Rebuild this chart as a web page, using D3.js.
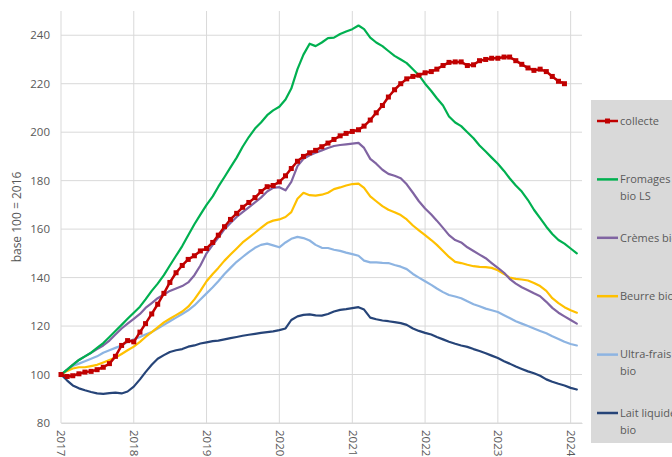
<!DOCTYPE html>
<html>
<head>
<meta charset="utf-8">
<script src="https://cdn.jsdelivr.net/npm/d3@7"></script>
<style>
  html, body { margin: 0; padding: 0; background: #fff; overflow: hidden; }
  svg { display: block; font-family: "Open Sans", "Liberation Sans", sans-serif; }
</style>
</head>
<body>
<svg id="chart" width="672" height="457"></svg>
<script>
// monthly index, base 100 = 2016, starting Jan 2017
const startDate = new Date(2017, 0, 1);
const yearTicks = [2017, 2018, 2019, 2020, 2021, 2022, 2023, 2024];
const yTicks = [80, 100, 120, 140, 160, 180, 200, 220, 240];

const collecte = [
  100, 99.2, 99.5, 100.3, 101, 101.3, 102, 103, 104.5, 107.5, 112, 114,
  113.5, 117.5, 121, 125, 129, 133.5, 138, 142, 145, 147.5, 149, 151,
  152, 154.5, 157.5, 161, 164, 166.5, 169, 171, 173, 175.5, 177.5, 178,
  179.5, 182, 185, 188, 190, 191.5, 192.5, 194, 195.5, 197, 198.5, 199.5,
  200.3, 201, 202.5, 205, 208, 211, 214.5, 217.5, 220, 222, 223, 223.5,
  224.5, 225, 226, 227.5, 228.8, 229, 229, 227.5, 227.8, 229.5, 230, 230.5,
  230.5, 231, 231, 229.5, 228, 226.5, 225.5, 226, 225, 223, 221, 220
];
const fromages = [
  100, 102, 104, 106, 107.5, 109, 111, 113, 115.5, 118, 120.5, 123,
  125.5, 128, 131, 134.5, 137.5, 141, 145, 149, 153, 157.5, 162, 166,
  170, 173.5, 177.5, 181.5, 185.5, 189.5, 194, 198, 201.5, 204, 207, 209,
  210.5, 213.5, 218, 226, 232, 236.5, 235.5, 237, 238.8, 239, 240.5, 241.5,
  242.5, 244, 242.5, 239, 237, 235.5, 233.5, 231.5, 230, 228.5, 226, 223.5,
  220, 217, 214, 211, 206.5, 204, 202.5, 200, 197.5, 194.5, 192, 189.5,
  187, 184, 181, 178, 175.5, 172, 168, 164.5, 161, 158, 155.5, 154,
  152, 150
];
const cremes = [
  100, 102, 104, 106, 107.5, 109, 110.5, 112, 114, 116.5, 119, 121,
  123, 125, 127.5, 129.5, 131.5, 133, 134.5, 135.5, 136.5, 138, 141, 145,
  150, 153.5, 156.5, 160, 162.5, 165, 167, 169, 171, 173, 175.5, 177,
  177.3, 176, 179.5, 186, 189, 190.5, 191.5, 192.5, 193.5, 194.3, 194.7, 195,
  195.3, 195.6, 193.5, 189, 187, 184.5, 182.8, 182, 181, 178.5, 175, 171.5,
  168.5, 166, 163.5, 160.5, 157.5, 155.5, 154.5, 152.5, 151, 149.5, 148, 146,
  144, 142, 139.5, 137.5, 136, 134.8, 133.5, 132.3, 130, 127.5, 125.5, 124,
  122.5, 121
];
const beurre = [
  100, 101.5, 102.5, 103, 103, 103.5, 104, 105, 106, 107, 108.5, 110,
  111.5, 113.5, 115.5, 117.5, 119.5, 121.5, 123, 124.5, 126, 128, 131, 134.5,
  138.5, 141.5, 144, 147, 149.5, 152, 154.5, 156.5, 158.5, 160.5, 162.5, 163.5,
  164, 165, 167, 172.5, 175, 174, 173.8, 174.2, 175, 176.5, 177.2, 178,
  178.6, 178.8, 177, 173.5, 171.5, 169.5, 168, 167, 165.8, 164, 161.5, 159.5,
  157.5, 155.5, 153.5, 151, 148.5, 146.5, 146, 145.3, 144.7, 144.4, 144.3, 144,
  143, 141.5, 140, 139.5, 139.2, 138.8, 137.8, 136.5, 134.5, 131.5, 129.5, 127.8,
  126.5, 125.5
];
const ultraFrais = [
  100, 102, 103.5, 104.5, 105.5, 106.5, 107.5, 109, 110, 111, 112, 113.5,
  114.5, 115.5, 116.5, 117.5, 119, 120.5, 122, 123.5, 125, 126.5, 128.5, 131,
  133.5, 136, 138.5, 141.5, 144, 146.5, 148.5, 150.5, 152.3, 153.5, 154, 153.3,
  152.5, 154.5, 156, 156.8, 156.3, 155.3, 153.5, 152.3, 152.2, 151.5, 151, 150.3,
  149.7, 149, 147, 146.3, 146.3, 146.1, 146, 145.2, 144.5, 143.5, 141.5, 140,
  138.5, 137, 135.5, 134, 132.8, 132.2, 131.5, 130.2, 129, 128.2, 127.2, 126.5,
  125.8, 124.5, 123.3, 122, 121, 120, 119, 118, 117, 115.8, 114.7, 113.5,
  112.6, 112
];
const laitLiquide = [
  100, 97.5, 95.5, 94.3, 93.5, 92.8, 92.2, 92, 92.3, 92.5, 92.2, 93,
  95, 98, 101, 104, 106.5, 108, 109.3, 110, 110.5, 111.5, 112, 112.8,
  113.3, 113.8, 114, 114.5, 115, 115.5, 116, 116.4, 116.8, 117.2, 117.5, 117.8,
  118.3, 119, 122.5, 124, 124.6, 124.8, 124.4, 124.3, 125, 126, 126.7, 127,
  127.4, 127.8, 126.8, 123.5, 122.8, 122.3, 122, 121.6, 121.2, 120.5, 119, 118,
  117.2, 116.5, 115.5, 114.5, 113.5, 112.7, 112, 111.4, 110.5, 109.7, 108.8, 107.8,
  106.8, 105.5, 104.5, 103.3, 102.3, 101.3, 100.5, 99.5, 98, 97, 96.2, 95.5,
  94.5, 93.8
];

const seriesNames = ["collecte", "Fromages bio LS", "Crèmes bio", "Beurre bio", "Ultra-frais bio", "Lait liquide bio"];
const seriesValues = [collecte, fromages, cremes, beurre, ultraFrais, laitLiquide];
const seriesColors = ["#c00000", "#00b050", "#8064a2", "#ffc000", "#8db4e2", "#264478"];
const legendLines = [["collecte"], ["Fromages", "bio LS"], ["Crèmes bio"], ["Beurre bio"], ["Ultra-frais", "bio"], ["Lait liquide", "bio"]];

const svg = d3.select("#chart");
const margin = { left: 61, right: 582, top: 11, bottom: 423 };

const x = d3.scaleTime()
  .domain([startDate, new Date(2024, 1, 27)])
  .range([margin.left, margin.right]);
const y = d3.scaleLinear().domain([80, 250]).range([margin.bottom, margin.top]);

const gridColor = "#d9d9d9";
const textColor = "#595959";

// horizontal gridlines
svg.append("g")
  .selectAll("line")
  .data(yTicks)
  .join("line")
  .attr("x1", margin.left)
  .attr("x2", margin.right)
  .attr("y1", (d) => y(d))
  .attr("y2", (d) => y(d))
  .attr("stroke", gridColor)
  .attr("stroke-width", 1);

// vertical gridlines at each year
svg.append("g")
  .selectAll("line")
  .data(yearTicks)
  .join("line")
  .attr("x1", (d) => x(new Date(d, 0, 1)))
  .attr("x2", (d) => x(new Date(d, 0, 1)))
  .attr("y1", margin.top)
  .attr("y2", margin.bottom)
  .attr("stroke", gridColor)
  .attr("stroke-width", 1);

// y axis labels
const yAxis = svg.append("g")
  .attr("transform", `translate(${margin.left},0)`)
  .call(d3.axisLeft(y).tickValues(yTicks).tickSize(0).tickPadding(11));
yAxis.select(".domain").remove();
yAxis.selectAll("text")
  .attr("fill", textColor)
  .attr("font-size", 11.5)
  .attr("font-family", "'Open Sans', sans-serif");

// x axis labels, rotated
const xAxis = svg.append("g")
  .attr("transform", `translate(0,${margin.bottom})`)
  .call(
    d3.axisBottom(x)
      .tickValues(yearTicks.map((d) => new Date(d, 0, 1)))
      .tickFormat(d3.timeFormat("%Y"))
      .tickSize(0)
  );
xAxis.select(".domain").attr("stroke", gridColor);
xAxis.selectAll("text")
  .attr("fill", textColor)
  .attr("font-size", 11.5)
  .attr("font-family", "'Open Sans', sans-serif")
  .attr("text-anchor", "start")
  .attr("transform", "rotate(90)")
  .attr("x", 7)
  .attr("y", 0)
  .attr("dy", "0.35em");

// y axis title
svg.append("text")
  .attr("transform", `translate(16,${(margin.top + margin.bottom) / 2}) rotate(-90)`)
  .attr("text-anchor", "middle")
  .attr("dominant-baseline", "central")
  .attr("fill", textColor)
  .attr("font-size", 12)
  .text("base 100 = 2016");

// lines
const line = d3.line()
  .x((d, i) => x(d3.timeMonth.offset(startDate, i)))
  .y((d) => y(d));

const drawOrder = [5, 4, 3, 2, 1, 0];
drawOrder.forEach((k) => {
  svg.append("path")
    .datum(seriesValues[k])
    .attr("fill", "none")
    .attr("stroke", seriesColors[k])
    .attr("stroke-width", k === 0 ? 2.5 : 2.2)
    .attr("stroke-linejoin", "round")
    .attr("stroke-linecap", "round")
    .attr("d", line);
});

// square markers on collecte
svg.append("g")
  .selectAll("rect")
  .data(collecte)
  .join("rect")
  .attr("x", (d, i) => x(d3.timeMonth.offset(startDate, i)) - 2.5)
  .attr("y", (d) => y(d) - 2.5)
  .attr("width", 5)
  .attr("height", 5)
  .attr("fill", seriesColors[0]);

// legend
const legendTop = 100;
svg.append("rect")
  .attr("x", 591)
  .attr("y", legendTop)
  .attr("width", 100)
  .attr("height", 343)
  .attr("fill", "#d9d9d9");

const legendY = d3.scaleLinear().domain([0, 5]).range([121, 413]);
const legend = svg.append("g")
  .selectAll("g")
  .data(seriesNames)
  .join("g")
  .attr("transform", (d, i) => `translate(597,${legendY(i)})`);

legend.append("line")
  .attr("x1", 0)
  .attr("x2", 21)
  .attr("y1", 0)
  .attr("y2", 0)
  .attr("stroke", (d, i) => seriesColors[i])
  .attr("stroke-width", 2.5);

legend.filter((d, i) => i === 0)
  .append("rect")
  .attr("x", 8)
  .attr("y", -2.5)
  .attr("width", 5)
  .attr("height", 5)
  .attr("fill", seriesColors[0]);

legend.append("text")
  .attr("x", 23)
  .attr("fill", textColor)
  .attr("font-size", 11)
  .selectAll("tspan")
  .data((d, i) => legendLines[i])
  .join("tspan")
  .attr("x", 23)
  .attr("y", (d, j) => j * 17)
  .attr("dy", "0.35em")
  .text((d) => d);
</script>
</body>
</html>
